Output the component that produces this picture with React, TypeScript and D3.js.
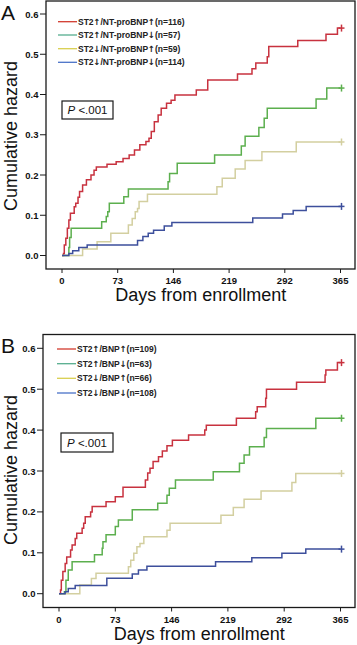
import React from "react";
import * as d3 from "d3";

// ---------- DATA ----------
const X_TICKS = [0, 73, 146, 219, 292, 365];
const Y_TICKS = [0.0, 0.1, 0.2, 0.3, 0.4, 0.5, 0.6];
const X_MAX = 365;

const LEGEND_A = [
  "ST2\u2191/NT-proBNP\u2191(n=116)",
  "ST2\u2191/NT-proBNP\u2193(n=57)",
  "ST2\u2193/NT-proBNP\u2191(n=59)",
  "ST2\u2193/NT-proBNP\u2193(n=114)",
];
const LEGEND_B = [
  "ST2\u2191/BNP\u2191(n=109)",
  "ST2\u2191/BNP\u2193(n=63)",
  "ST2\u2193/BNP\u2191(n=66)",
  "ST2\u2193/BNP\u2193(n=108)",
];

// Panel A step curves: [day, cumulative hazard]
const redA: [number, number][] = [
  [0, 0], [2, 0.005], [3, 0.026], [5, 0.043], [7, 0.068], [9, 0.088], [11, 0.105],
  [16, 0.121], [18, 0.13], [21, 0.145], [23, 0.159], [27, 0.175], [32, 0.188],
  [38, 0.2], [42, 0.212], [45, 0.22], [59, 0.227], [71, 0.233], [80, 0.241],
  [88, 0.25], [95, 0.262], [102, 0.275], [110, 0.283], [114, 0.291], [117, 0.308],
  [121, 0.332], [126, 0.349], [130, 0.366], [137, 0.378], [143, 0.386], [148, 0.399],
  [176, 0.411], [191, 0.436], [230, 0.451], [249, 0.464], [254, 0.478], [269, 0.494],
  [271, 0.519], [309, 0.534], [346, 0.55], [361, 0.565],
];
const greenA: [number, number][] = [
  [0, 0], [8, 0.0], [9, 0.02], [10, 0.045], [12, 0.068], [52, 0.084], [58, 0.097],
  [60, 0.109], [62, 0.13], [81, 0.146], [87, 0.165], [139, 0.183], [141, 0.204],
  [151, 0.229], [200, 0.25], [235, 0.272], [240, 0.296], [258, 0.318], [265, 0.341],
  [269, 0.366], [333, 0.389], [347, 0.416],
];
const tanA: [number, number][] = [
  [0, 0], [27, 0.016], [46, 0.034], [64, 0.055], [87, 0.076], [92, 0.092],
  [96, 0.109], [99, 0.117], [101, 0.134], [112, 0.152], [203, 0.171], [210, 0.192],
  [227, 0.215], [240, 0.236], [262, 0.258], [307, 0.282],
];
const blueA: [number, number][] = [
  [0, 0], [9, 0.005], [14, 0.012], [22, 0.02], [33, 0.026], [99, 0.037],
  [106, 0.047], [113, 0.055], [120, 0.063], [134, 0.073], [144, 0.082],
  [250, 0.093], [289, 0.103], [303, 0.112], [320, 0.122],
];

// Panel B step curves
const redB: [number, number][] = [
  [0, 0], [2, 0.009], [3, 0.033], [5, 0.054], [8, 0.074], [10, 0.09], [15, 0.107],
  [17, 0.119], [21, 0.135], [23, 0.148], [30, 0.16], [32, 0.172], [34, 0.188],
  [41, 0.2], [43, 0.213], [61, 0.225], [73, 0.237], [83, 0.26], [112, 0.278],
  [115, 0.295], [118, 0.307], [122, 0.323], [129, 0.335], [134, 0.349], [140, 0.362],
  [147, 0.375], [168, 0.388], [189, 0.4], [191, 0.412], [230, 0.429], [255, 0.445],
  [257, 0.457], [268, 0.478], [269, 0.5], [308, 0.517], [345, 0.535], [346, 0.547],
  [361, 0.565],
];
const greenB: [number, number][] = [
  [0, 0], [7, 0.005], [9, 0.033], [12, 0.058], [17, 0.078], [46, 0.095], [56, 0.111],
  [57, 0.127], [61, 0.144], [73, 0.164], [77, 0.18], [95, 0.205], [128, 0.221],
  [140, 0.241], [143, 0.258], [151, 0.278], [200, 0.298], [234, 0.319], [240, 0.339],
  [247, 0.359], [266, 0.382], [269, 0.404], [333, 0.429],
];
const tanB: [number, number][] = [
  [0, 0], [27, 0.021], [42, 0.037], [48, 0.05], [90, 0.066], [93, 0.082],
  [97, 0.099], [101, 0.115], [105, 0.123], [110, 0.139], [140, 0.155], [144, 0.172],
  [210, 0.192], [226, 0.211], [240, 0.231], [262, 0.251], [302, 0.272], [307, 0.294],
];
const blueB: [number, number][] = [
  [0, 0], [8, 0.005], [12, 0.013], [21, 0.02], [62, 0.038], [95, 0.048],
  [103, 0.058], [114, 0.067], [203, 0.078], [250, 0.088], [289, 0.099], [320, 0.109],
];

// ---------- STYLE ----------
const CURVE_COLORS = ["#c8323f", "#5caf4e", "#d3cfa0", "#3d4f9c"];
const LEGEND_COLORS = ["#d23a2e", "#56ad8e", "#d9cf4e", "#4a72c8"];
const FONT = "'Liberation Sans', Arial, Helvetica, sans-serif";
const ARROW_FONT = "'DejaVu Sans', sans-serif";

type Layout = {
  letter: string;
  letterY: number;
  frame: { x0: number; x1: number; y0: number; y1: number };
  xRange: [number, number];
  yRange: [number, number];
  legendLine: [number, number];
  legendRows: number[];
  pBox: { x: number; y: number; w: number; h: number };
  yTitleX: number;
  yTitleY: number;
  xTitleY: number;
  xLabelY: number;
};

const layoutA: Layout = {
  letter: "A",
  letterY: 19.5,
  frame: { x0: 46, x1: 355, y0: 1, y1: 269 },
  xRange: [62, 340.5],
  yRange: [255.5, 14],
  legendLine: [58, 77],
  legendRows: [21.7, 35, 48.7, 62.3],
  pBox: { x: 62, y: 101, w: 51, h: 18 },
  yTitleX: 16.5,
  yTitleY: 136,
  xTitleY: 301,
  xLabelY: 283.5,
};
const layoutB: Layout = {
  letter: "B",
  letterY: 352.5,
  frame: { x0: 43, x1: 355, y0: 334.5, y1: 607.5 },
  xRange: [59, 340.5],
  yRange: [593.7, 348.3],
  legendLine: [57, 76],
  legendRows: [349, 363.7, 378.3, 393],
  pBox: { x: 61, y: 433, w: 52, h: 19 },
  yTitleX: 16.5,
  yTitleY: 470,
  xTitleY: 640,
  xLabelY: 622.5,
};

function LegendLabel({ text }: { text: string }) {
  // split so arrows use a font that has full-size arrow glyphs
  const parts = text.split(/([\u2191\u2193])/).filter((p) => p.length > 0);
  return (
    <>
      {parts.map((p, i) =>
        p === "\u2191" || p === "\u2193" ? (
          <tspan key={i} fontFamily={ARROW_FONT} fontSize={8.5} dx={-0.3}>
            {p}
          </tspan>
        ) : (
          <tspan key={i}>{p}</tspan>
        )
      )}
    </>
  );
}

function Panel({
  layout,
  series,
  labels,
}: {
  layout: Layout;
  series: [number, number][][];
  labels: string[];
}) {
  const x = d3.scaleLinear().domain([0, X_MAX]).range(layout.xRange);
  const y = d3.scaleLinear().domain([0, 0.6]).range(layout.yRange);
  const line = d3
    .line<[number, number]>()
    .x((d) => x(d[0]))
    .y((d) => y(d[1]))
    .curve(d3.curveStepAfter);
  const f = layout.frame;
  const xMid = (layout.xRange[0] + layout.xRange[1]) / 2;
  return (
    <g>
      <text x={1} y={layout.letterY} fontFamily={FONT} fontSize={21} fill="#111">
        {layout.letter}
      </text>
      {/* frame */}
      <rect
        x={f.x0}
        y={f.y0}
        width={f.x1 - f.x0}
        height={f.y1 - f.y0}
        fill="white"
        stroke="#1a1a1a"
        strokeWidth={1.3}
      />
      {/* y ticks */}
      {Y_TICKS.map((t) => (
        <g key={"y" + t}>
          <line x1={f.x0 - 6} x2={f.x0} y1={y(t)} y2={y(t)} stroke="#1a1a1a" strokeWidth={1} />
          <text
            x={f.x0 - 7.5}
            y={y(t) + 3.5}
            textAnchor="end"
            fontFamily={FONT}
            fontWeight="bold"
            fontSize={9.5}
            fill="#111"
          >
            {t.toFixed(1)}
          </text>
        </g>
      ))}
      {/* x ticks */}
      {X_TICKS.map((t) => (
        <g key={"x" + t}>
          <line x1={x(t)} x2={x(t)} y1={f.y1} y2={f.y1 + 4} stroke="#1a1a1a" strokeWidth={1} />
          <text
            x={x(t)}
            y={layout.xLabelY}
            textAnchor="middle"
            fontFamily={FONT}
            fontWeight="bold"
            fontSize={9.5}
            fill="#111"
          >
            {t}
          </text>
        </g>
      ))}
      {/* axis titles */}
      <text
        transform={`translate(${layout.yTitleX},${layout.yTitleY}) rotate(-90)`}
        textAnchor="middle"
        fontFamily={FONT}
        fontSize={18}
        fill="#111"
      >
        Cumulative hazard
      </text>
      <text
        x={xMid - 0.5}
        y={layout.xTitleY}
        textAnchor="middle"
        fontFamily={FONT}
        fontSize={18}
        fill="#111"
      >
        Days from enrollment
      </text>
      {/* curves */}
      {series.map((s, i) => {
        const last = s[s.length - 1];
        const pts: [number, number][] = [...s, [X_MAX, last[1]]];
        const ex = x(X_MAX) + 1;
        const ey = y(last[1]);
        return (
          <g key={"s" + i}>
            <path d={line(pts) || ""} fill="none" stroke={CURVE_COLORS[i]} strokeWidth={1.5} />
            <line x1={ex} x2={ex} y1={ey - 3.5} y2={ey + 3.5} stroke={CURVE_COLORS[i]} strokeWidth={1.5} />
            <line x1={ex - 3} x2={ex + 3} y1={ey} y2={ey} stroke={CURVE_COLORS[i]} strokeWidth={1.5} />
          </g>
        );
      })}
      {/* legend */}
      {labels.map((lab, i) => (
        <g key={"l" + i}>
          <line
            x1={layout.legendLine[0]}
            x2={layout.legendLine[1]}
            y1={layout.legendRows[i]}
            y2={layout.legendRows[i]}
            stroke={LEGEND_COLORS[i]}
            strokeWidth={1.3}
          />
          <text
            x={layout.legendLine[1] + 1}
            y={layout.legendRows[i] + 3}
            fontFamily={FONT}
            fontWeight="bold"
            fontSize={8.5}
            fill="#222"
          >
            <LegendLabel text={lab} />
          </text>
        </g>
      ))}
      {/* P box */}
      <rect
        x={layout.pBox.x}
        y={layout.pBox.y}
        width={layout.pBox.w}
        height={layout.pBox.h}
        fill="white"
        stroke="#1a1a1a"
        strokeWidth={1.2}
      />
      <text
        x={layout.pBox.x + layout.pBox.w / 2}
        y={layout.pBox.y + layout.pBox.h / 2 + 4}
        textAnchor="middle"
        fontFamily={FONT}
        fontSize={11.5}
        fill="#111"
      >
        <tspan fontStyle="italic">P</tspan>
        <tspan>{" <.001"}</tspan>
      </text>
    </g>
  );
}

export default function App() {
  return (
    <svg
      width={357}
      height={645}
      viewBox="0 0 357 645"
      style={{ position: "absolute", left: 0, top: 0, background: "white" }}
    >
      <rect x={0} y={0} width={357} height={645} fill="white" />
      <Panel layout={layoutA} series={[redA, greenA, tanA, blueA]} labels={LEGEND_A} />
      <Panel layout={layoutB} series={[redB, greenB, tanB, blueB]} labels={LEGEND_B} />
    </svg>
  );
}
